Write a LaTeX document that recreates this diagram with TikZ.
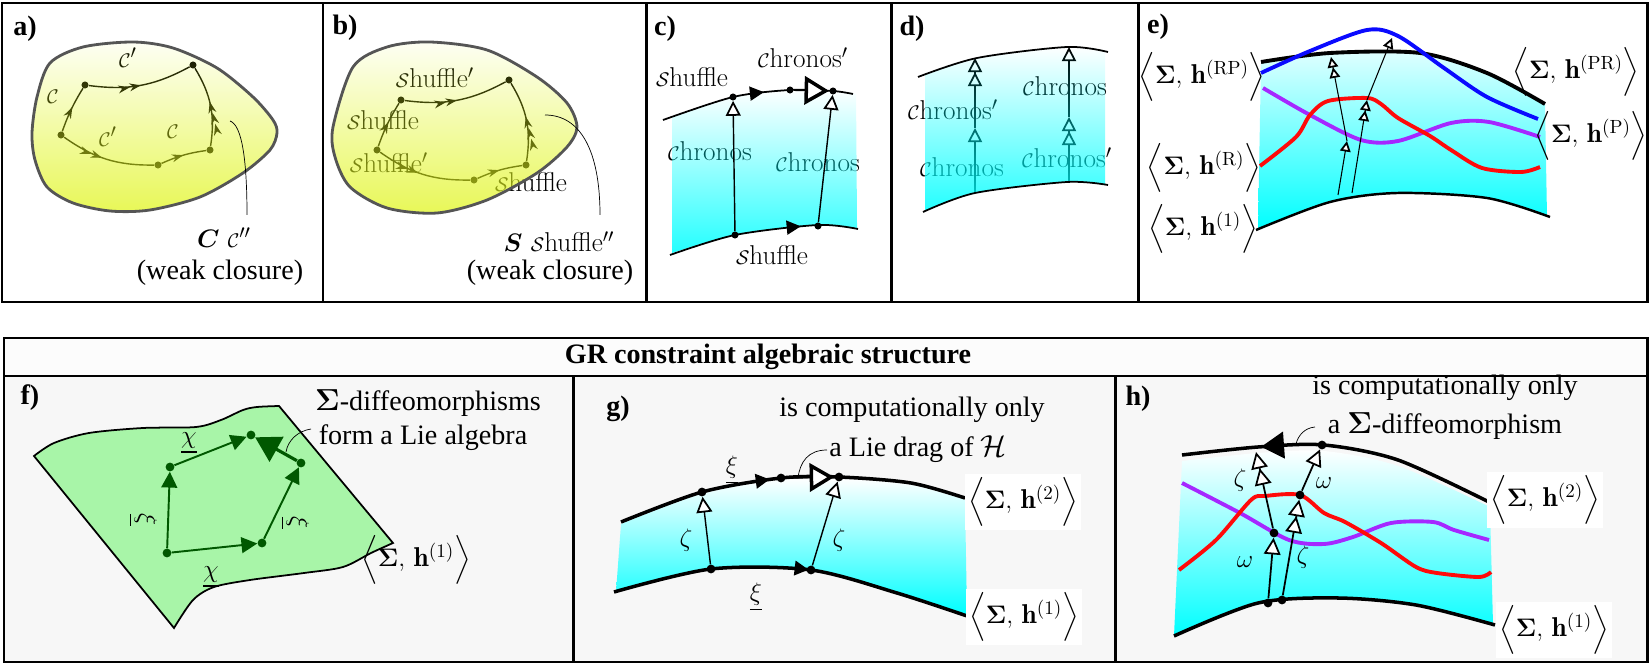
\documentclass[tikz,border=0pt]{standalone}
\usepackage{amsmath,amssymb}
\usepackage{graphicx}
\usepackage{fontspec}
\newfontfamily\tnr{Liberation Serif}
\usetikzlibrary{arrows.meta,calc,decorations.markings,fadings}
\definecolor{blobyel}{rgb}{0.88,0.96,0.12}
\definecolor{blobgray}{RGB}{85,85,85}
\definecolor{sheetgreen}{RGB}{168,245,168}
\definecolor{arrgreen}{RGB}{0,88,0}
\definecolor{hpurple}{RGB}{165,40,255}
\definecolor{hblue}{RGB}{10,10,255}
\definecolor{hred}{RGB}{255,10,10}
\definecolor{sheetcyan}{RGB}{0,255,255}
\newcommand{\calC}{\scalebox{0.78}{$\mathcal{C}$}}
\newcommand{\calS}{\scalebox{0.78}{$\mathcal{S}$}}
\newcommand{\sh}[1]{$\Big\langle\boldsymbol{\Sigma},\,\mathbf{h}^{(\mathrm{#1})}\Big\rangle$}
\tikzfading[name=blobfade, top color=transparent!95, bottom color=transparent!25]
\tikzfading[name=cyanfade, top color=transparent!100, bottom color=transparent!14]
\tikzset{
  panel/.style={line width=1.7pt},
  plab/.style={font=\tnr\fontsize{16}{19}\selectfont\bfseries},
  tlab/.style={font=\tnr\fontsize{16}{19}\selectfont},
  dot/.style={circle, fill=black, inner sep=0pt, minimum size=4pt},
  walk/.style={line width=0.8pt},
  mark1/.style={postaction={decorate, decoration={markings, mark=at position #1 with {\arrow{Stealth[length=6.5pt,width=4.5pt]}}}}},
  mark2/.style={postaction={decorate, decoration={markings, mark=at position #1 with {\arrow{Stealth[length=6.5pt,width=4.5pt]Stealth[length=6.5pt,width=4.5pt]}}}}},
  mark3/.style={postaction={decorate, decoration={markings, mark=at position #1 with {\arrow{Stealth[length=6.5pt,width=4.5pt]Stealth[length=6.5pt,width=4.5pt]Stealth[length=6.5pt,width=4.5pt]}}}}},
  blob/.style={line width=1.6pt, draw=blobgray, preaction={fill=blobyel, path fading=blobfade}},
  thincurve/.style={line width=1pt},
  thickcurve/.style={line width=2pt},
  tipon/.style={postaction={decorate, decoration={markings, mark=at position #1 with {\arrow{Triangle[length=8pt,width=8pt]}}}}},
  bigopen/.style={line width=1pt, -{Triangle[fill=white, length=14pt, width=16pt, line width=2pt]}},
  oneopen/.style={line width=0.8pt, -{Triangle[fill=white, length=#1, width=#1, line width=1pt]}},
  twoopen/.style={line width=0.8pt, -{Triangle[fill=white, length=#1, width=#1, line width=1pt]Triangle[fill=white, length=#1, width=#1, line width=1pt]}},
  garrow/.style={arrgreen, line width=1.1pt, -{Triangle[length=9pt,width=9pt]}},
  gdot/.style={dot, fill=arrgreen, minimum size=5pt},
  slab/.style={fill=white, inner sep=2pt},
}

\begin{document}
\begin{tikzpicture}[x=0.02cm, y=-0.02cm, every node/.style={font=\fontsize{15.5}{18}\selectfont, inner sep=1pt}]
\useasboundingbox (0,0) rectangle (1650,665);

% frames
\fill[gray!6] (4,376) rectangle (1647,662);
\fill[gray!2] (4,338) rectangle (1647,376);
\draw[panel] (2,3) rectangle (1647,302);
\foreach \xd in {323,646,891,1138} \draw[panel] (\xd,3) -- (\xd,302);
\draw[panel] (4,338) rectangle (1647,662);
\draw[panel] (4,376) -- (1647,376);
\foreach \xd in {573,1115} \draw[panel] (\xd,376) -- (\xd,662);

\node[plab] (la) at (25,29) {a)};
\node[plab] (lb) at (345,28) {b)};
\node[plab] (lc) at (665,29) {c)};
\node[plab] (ld) at (912,29) {d)};
\node[plab] (le) at (1158,27) {e)};
\node[plab] (lf) at (30,398) {f)};
\node[plab] (lg) at (618,409) {g)};
\node[plab] (lh) at (1138,399) {h)};
\node[plab] (title) at (768,357) {GR constraint algebraic structure};

% a)
\node (aC1) at (53,97) {\calC};
\node (aC2) at (128,58) {\calC$'$};
\node (aC3) at (108,137) {\calC$'$};
\node (aC4) at (173,132) {\calC};
\node[dot] (a1) at (61,135) {};
\node[dot] (a2) at (85,85) {};
\node[dot] (a3) at (193,65) {};
\node[dot] (a4) at (210,150) {};
\node[dot] (a5) at (158,165) {};
\draw[walk, mark1=0.55] (a1) to[bend left=6] (a2);
\draw[walk, mark2=0.5] (a2) to[bend right=18] (a3);
\draw[walk, mark3=0.55] (a4) to[bend right=20] (a3);
\draw[walk, mark2=0.45] (a1) to[bend right=18] (a5);
\draw[walk, mark1=0.5] (a5) to[bend left=8] (a4);
\draw[blob] plot[smooth cycle] coordinates {(32,133) (37,97) (50,63) (83,47) (133,42) (173,48) (217,68) (253,97) (273,120) (277,133) (270,150) (243,173) (200,197) (150,210) (110,211) (73,203) (47,187) (35,160)};
\coordinate (ap1) at (230,121);
\coordinate (ap2) at (247,215);
\draw[thin] (ap1) .. controls (242,125) and (247,160) .. (ap2);
\node (aCC) at (224,238) {$\boldsymbol{C}$ \calC$''$};
\node[tlab] (aw) at (220,273) {(weak closure)};

% b)
\node (bS1) at (435,78) {\calS huffle$'$};
\node (bS2) at (383,120) {\calS huffle};
\node (bS3) at (389,163) {\calS huffle$'$};
\node (bS4) at (531,182) {\calS huffle};
\node[dot] (b1) at (377,150) {};
\node[dot] (b2) at (401,100) {};
\node[dot] (b3) at (509,80) {};
\node[dot] (b4) at (526,165) {};
\node[dot] (b5) at (474,180) {};
\draw[walk, mark1=0.55] (b1) to[bend left=6] (b2);
\draw[walk, mark2=0.5] (b2) to[bend right=18] (b3);
\draw[walk, mark3=0.55] (b4) to[bend right=20] (b3);
\draw[walk, mark2=0.45] (b1) to[bend right=18] (b5);
\draw[walk, mark1=0.5] (b5) to[bend left=8] (b4);
\draw[blob] plot[smooth cycle] coordinates {(333,127) (353,67) (387,47) (430,42) (487,50) (537,77) (567,103) (577,127) (567,147) (537,173) (487,200) (437,213) (387,208) (350,187) (335,157)};
\coordinate (bp1) at (545,115);
\coordinate (bp2) at (600,215);
\draw[thin] (bp1) .. controls (580,115) and (600,150) .. (bp2);
\node (bSS) at (559,242) {$\boldsymbol{S}$ \calS huffle$''$};
\node[tlab] (bw) at (550,273) {(weak closure)};

% c)
\node (cS1) at (692,77) {\calS huffle};
\node (cC1) at (803,58) {\calC hronos$'$};
\node (cC2) at (710,151) {\calC hronos};
\node (cC3) at (818,162) {\calC hronos};
\node (cS2) at (772,255) {\calS huffle};
\fill[sheetcyan, path fading=cyanfade] plot[smooth] coordinates {(672,117) (733,97) (790,90) (833,91) (856,94)} -- plot[smooth] coordinates {(857,229) (818,225) (735,235) (672,253)} -- cycle;
\draw[thincurve, tipon=0.54] plot[smooth] coordinates {(663,120) (733,97) (790,90) (833,91) (853,94)};
\draw[thincurve, tipon=0.7] plot[smooth] coordinates {(670,255) (735,235) (818,225) (858,229)};
\node[dot] (cA) at (733,97) {};
\node[dot] (cB) at (790,90) {};
\node[dot] (cCp) at (833,91) {};
\node[dot] (cD) at (735,235) {};
\node[dot] (cE) at (818,226) {};
\draw[bigopen] (cB) -- (cCp);
\draw[oneopen=8.5pt] (cD) -- (cA);
\draw[oneopen=8.5pt] (cE) -- (cCp);

% d)
\node (dC1) at (953,110) {\calC hronos$'$};
\node (dC2) at (962,167) {\calC hronos};
\node (dC3) at (1065,86) {\calC hronos};
\node (dC4) at (1067,158) {\calC hronos$'$};
\coordinate (dB1) at (975,193);
\coordinate (dM1) at (975,128);
\coordinate (dT1) at (975,58);
\coordinate (dB2) at (1069,182);
\coordinate (dM2) at (1069,117);
\coordinate (dT2) at (1069,47);
\draw[oneopen=8pt] (dB1) -- (dM1);
\draw[twoopen=8pt] (dM1) -- (dT1);
\draw[twoopen=8pt] (dB2) -- (dM2);
\draw[oneopen=8pt] (dM2) -- (dT2);
\fill[sheetcyan, path fading=cyanfade] plot[smooth] coordinates {(925,75) (977,58) (1067,47) (1105,51)} -- plot[smooth] coordinates {(1105,185) (1067,182) (975,193) (925,211)} -- cycle;
\draw[thincurve] plot[smooth] coordinates {(918,77) (977,58) (1067,47) (1108,52)};
\draw[thincurve] plot[smooth] coordinates {(923,212) (975,193) (1067,182) (1108,185)};

% e)
\shade[top color=sheetcyan!12, middle color=sheetcyan!85, bottom color=sheetcyan] plot[smooth] coordinates {(1261,62) (1330,53) (1420,53) (1487,73) (1545,104)} -- plot[smooth] coordinates {(1547,217) (1487,198) (1397,193) (1330,202) (1258,229)} -- cycle;
\draw[line width=2.2pt] plot[smooth] coordinates {(1261,62) (1330,53) (1420,53) (1487,73) (1545,104)};
\draw[line width=1.4pt] plot[smooth] coordinates {(1256,230) (1330,202) (1397,193) (1487,198) (1550,217)};
\draw[hpurple, line width=2.2pt] plot[smooth] coordinates {(1263,88) (1310,115) (1361,140) (1398,141) (1451,123) (1489,122) (1540,137)};
\draw[hred, line width=2.2pt] plot[smooth] coordinates {(1260,166) (1296,137) (1310,115) (1328,101) (1367,98) (1381,104) (1398,118) (1430,136) (1451,150) (1482,168) (1521,172) (1540,167)};
\draw[hblue, line width=2.2pt] plot[smooth] coordinates {(1261,73) (1310,51) (1367,30) (1398,36) (1444,68) (1487,97) (1538,119)};
\coordinate (eB1) at (1338,195);
\coordinate (eM1) at (1347,141);
\coordinate (eT1) at (1331,57);
\coordinate (eB2) at (1352,193);
\coordinate (eM2) at (1367,100);
\coordinate (eT2) at (1392,38);
\draw[oneopen=6pt, line width=0.6pt] (eB1) -- (eM1);
\draw[twoopen=6pt, line width=0.6pt] (eM1) -- (eT1);
\draw[twoopen=6pt, line width=0.6pt] (eB2) -- (eM2);
\draw[oneopen=6pt, line width=0.6pt] (eM2) -- (eT2);
\node (eRP) at (1202,77) {\sh{RP}};
\node (eR) at (1204,168) {\sh{R}};
\node (e1) at (1203,229) {\sh{1}};
\node (ePR) at (1576,72) {\sh{PR}};
\node (eP) at (1591,136) {\sh{P}};

% f)
\filldraw[fill=sheetgreen, line width=1pt] plot[smooth] coordinates {(34,456) (54,443) (89,433) (143,428) (196,427) (221,420) (243,410) (257,407) (279,406)} -- (393,543) -- plot[smooth] coordinates {(393,543) (371,553) (343,567) (304,573) (250,580) (214,587) (193,600) (174,628)} -- cycle;
\node[gdot] (q1) at (167,553) {};
\node[gdot] (q2) at (170,467) {};
\node[gdot] (q3) at (251,435) {};
\node[gdot] (q4) at (301,463) {};
\node[gdot] (q5) at (262,543) {};
\draw[garrow] (q1) -- (q2);
\draw[garrow] (q2) -- (q3);
\draw[garrow] (q1) -- (q5);
\draw[garrow] (q5) -- (q4);
\draw[garrow, line width=1.8pt, -{Triangle[length=14pt,width=16pt]}] (q4) -- (q3);
\node (fchi1) at (189,443) {$\underline{\chi}$};
\node[rotate=-90] (fxi1) at (143,520) {$\underline{\xi}$};
\node[rotate=-90] (fxi2) at (295,523) {$\underline{\xi}$};
\node (fchi2) at (211,577) {$\underline{\chi}$};
\node[tlab] (fd1) at (428,403) {$\boldsymbol{\Sigma}$-diffeomorphisms};
\node[tlab] (fd2) at (423,438) {form a Lie algebra};
\coordinate (fp1) at (311,429);
\coordinate (fp2) at (286,452);
\draw[thin] (fp1) .. controls (298,431) and (288,440) .. (fp2);
\node (fh1) at (416,560) {\sh{1}};

% g)
\shade[top color=white, bottom color=sheetcyan] plot[smooth] coordinates {(621,524) (702,494) (781,480) (839,479) (911,485) (965,500)} -- plot[smooth] coordinates {(967,615) (897,593) (811,570) (711,569) (616,592)} -- cycle;
\draw[thickcurve, tipon=0.44] plot[smooth] coordinates {(621,522) (702,492) (781,478) (839,477) (911,483) (965,498)};
\draw[thickcurve, tipon=0.54] plot[smooth] coordinates {(614,592) (711,569) (811,570) (897,593) (970,617)};
\node[dot, minimum size=5pt] (gA) at (702,492) {};
\node[dot, minimum size=5pt] (gB) at (781,478) {};
\node[dot, minimum size=5pt] (gC) at (839,477) {};
\node[dot, minimum size=5pt] (gD) at (711,569) {};
\node[dot, minimum size=5pt] (gE) at (811,570) {};
\draw[bigopen] (gB) -- (gC);
\draw[oneopen=9pt] (gD) -- (gA);
\draw[oneopen=9pt] (gE) -- (gC);
\node (gxi1) at (732,470) {$\underline{\xi}$};
\node (gxi2) at (756,597) {$\underline{\xi}$};
\node (gz1) at (686,540) {$\zeta$};
\node (gz2) at (839,540) {$\zeta$};
\node[tlab] (gt1) at (912,410) {is computationally only};
\node[tlab] (gt2) at (918,449) {a Lie drag of $\mathcal{H}$};
\coordinate (gp1) at (827,450);
\coordinate (gp2) at (798,478);
\draw[thin] (gp1) .. controls (808,450) and (800,462) .. (gp2);
\node[slab] (gh2) at (1023,502) {\sh{2}};
\node[slab] (gh1) at (1024,617) {\sh{1}};

% h)
\shade[top color=white, bottom color=sheetcyan] plot[smooth] coordinates {(1182,461) (1258,453) (1324,451) (1398,466) (1490,507)} -- plot[smooth] coordinates {(1493,625) (1416,605) (1338,598) (1258,603) (1174,636)} -- cycle;
\draw[thickcurve, postaction={decorate, decoration={markings, mark=at position 0.25 with {\arrowreversed{Triangle[length=13pt,width=15pt]}}}}] plot[smooth] coordinates {(1182,455) (1258,447) (1324,445) (1398,460) (1489,502)};
\draw[thickcurve] plot[smooth] coordinates {(1174,636) (1258,603) (1338,598) (1416,605) (1495,625)};
\draw[hpurple, line width=2.2pt] plot[smooth] coordinates {(1182,483) (1240,513) (1289,540) (1324,544) (1353,537) (1391,523) (1433,522) (1454,530) (1489,540)};
\draw[hred, line width=2.2pt] plot[smooth] coordinates {(1179,570) (1216,540) (1251,500) (1265,496) (1300,495) (1324,513) (1345,522) (1381,543) (1416,567) (1437,573) (1479,577) (1491,572)};
\node[dot, minimum size=5pt] (hB1) at (1268,603) {};
\node[dot, minimum size=5pt] (hB2) at (1282,600) {};
\node[dot, minimum size=5pt] (hM1) at (1274,533) {};
\node[dot, minimum size=5pt] (hM2) at (1300,495) {};
\node[dot, minimum size=5pt] (hT2) at (1322,445) {};
\coordinate (hT1) at (1256,452);
\draw[oneopen=9.5pt, line width=1pt] (hB1) -- (hM1);
\draw[twoopen=9.5pt, line width=1pt] (hM1) -- (hT1);
\draw[twoopen=9.5pt, line width=1pt] (hB2) -- (hM2);
\draw[oneopen=9.5pt, line width=1pt] (hM2) -- (hT2);
\node (hw1) at (1245,562) {$\omega$};
\node (hz1) at (1240,480) {$\zeta$};
\node (hz2) at (1303,557) {$\zeta$};
\node (hw2) at (1324,483) {$\omega$};
\node[tlab] (ht1) at (1445,388) {is computationally only};
\node[tlab] (ht2) at (1445,426) {a $\boldsymbol{\Sigma}$-diffeomorphism};
\coordinate (hp1) at (1315,427);
\coordinate (hp2) at (1296,444);
\draw[thin] (hp1) .. controls (1304,428) and (1298,436) .. (hp2);
\node[slab] (hh2) at (1545,500) {\sh{2}};
\node[slab] (hh1) at (1554,630) {\sh{1}};
\end{tikzpicture}
\end{document}
